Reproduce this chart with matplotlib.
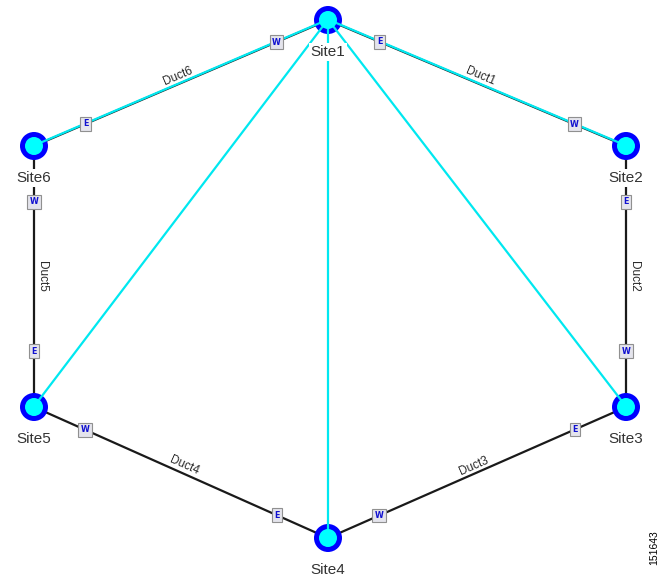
import numpy as np
import matplotlib.pyplot as plt
from matplotlib.patches import Circle

# site positions (pixel-like units, y grows downward)
sites = ["Site1", "Site2", "Site3", "Site4", "Site5", "Site6"]
site_x = [328, 626, 626, 328, 34, 34]
site_y = [20, 146, 407, 538, 407, 146]

# ducts: east end -> west end
ducts = ["Duct1", "Duct2", "Duct3", "Duct4", "Duct5", "Duct6"]
duct_east = [0, 1, 2, 3, 4, 5]
duct_west = [1, 2, 3, 4, 5, 0]

# cyan trails, all starting at Site1
trail_from = [0, 0, 0, 0, 0]
trail_to = [1, 5, 4, 3, 2]

fig = plt.figure(figsize=(6.65, 5.84), dpi=100)
ax = fig.add_axes([0, 0, 1, 1])
ax.set_xlim(0, 665)
ax.set_ylim(584, 0)
ax.axis('off')

sx = np.array(site_x, float)
sy = np.array(site_y, float)

# ducts (black) with their labels and E/W markers
for name, a, b in zip(ducts, duct_east, duct_west):
    ax.plot([sx[a], sx[b]], [sy[a], sy[b]], color='#1a1a1a', lw=1.6, zorder=1,
            solid_capstyle='butt')
    dx, dy = sx[b] - sx[a], sy[b] - sy[a]
    L = np.hypot(dx, dy)
    ux, uy = dx / L, dy / L
    ang = np.degrees(np.arctan2(-dy, dx))
    if ang > 89:
        ang -= 180
    elif ang < -90:
        ang += 180
    th = np.radians(ang)
    nx, ny = -np.sin(th), -np.cos(th)
    mx, my = (sx[a] + sx[b]) / 2, (sy[a] + sy[b]) / 2
    ax.text(mx + 7.5 * nx, my + 7.5 * ny, name, rotation=ang, rotation_mode='anchor',
            ha='center', va='center', fontsize=8.5, color='#2a2a2a',
            family='Liberation Sans', zorder=5)
    d = 56
    for px, py, letter in [(sx[a] + d * ux, sy[a] + d * uy, 'E'),
                           (sx[b] - d * ux, sy[b] - d * uy, 'W')]:
        ax.text(px, py, letter, ha='center', va='center', fontsize=5.8,
                color='#1010d0', fontweight='bold', family='DejaVu Sans',
                bbox=dict(boxstyle='square,pad=0.3', fc='#e4e4ec',
                          ec='#909090', lw=0.8), zorder=6)

# nodes
for x, y in zip(sx, sy):
    ax.add_patch(Circle((x, y), 14, fc='#0000ff', ec='none', zorder=3))

# trails (cyan)
for a, b in zip(trail_from, trail_to):
    ax.plot([sx[a], sx[b]], [sy[a] - 0.5, sy[b] - 0.5], color='#00e8f0', lw=1.6,
            zorder=4)

for x, y in zip(sx, sy):
    ax.add_patch(Circle((x, y), 9, fc='#00ffff', ec='none', zorder=4.5))

# site labels
for name, x, y in zip(sites, sx, sy):
    ax.text(x, y + 32, name, ha='center', va='center', fontsize=11,
            color='#333333', family='Liberation Sans',
            bbox=dict(boxstyle='square,pad=0.1', fc='white', ec='none'), zorder=7)

ax.text(654, 548, '151643', rotation=90, ha='center', va='center',
        fontsize=7.5, color='black', family='Liberation Sans')

plt.savefig('out.png', dpi=100)
